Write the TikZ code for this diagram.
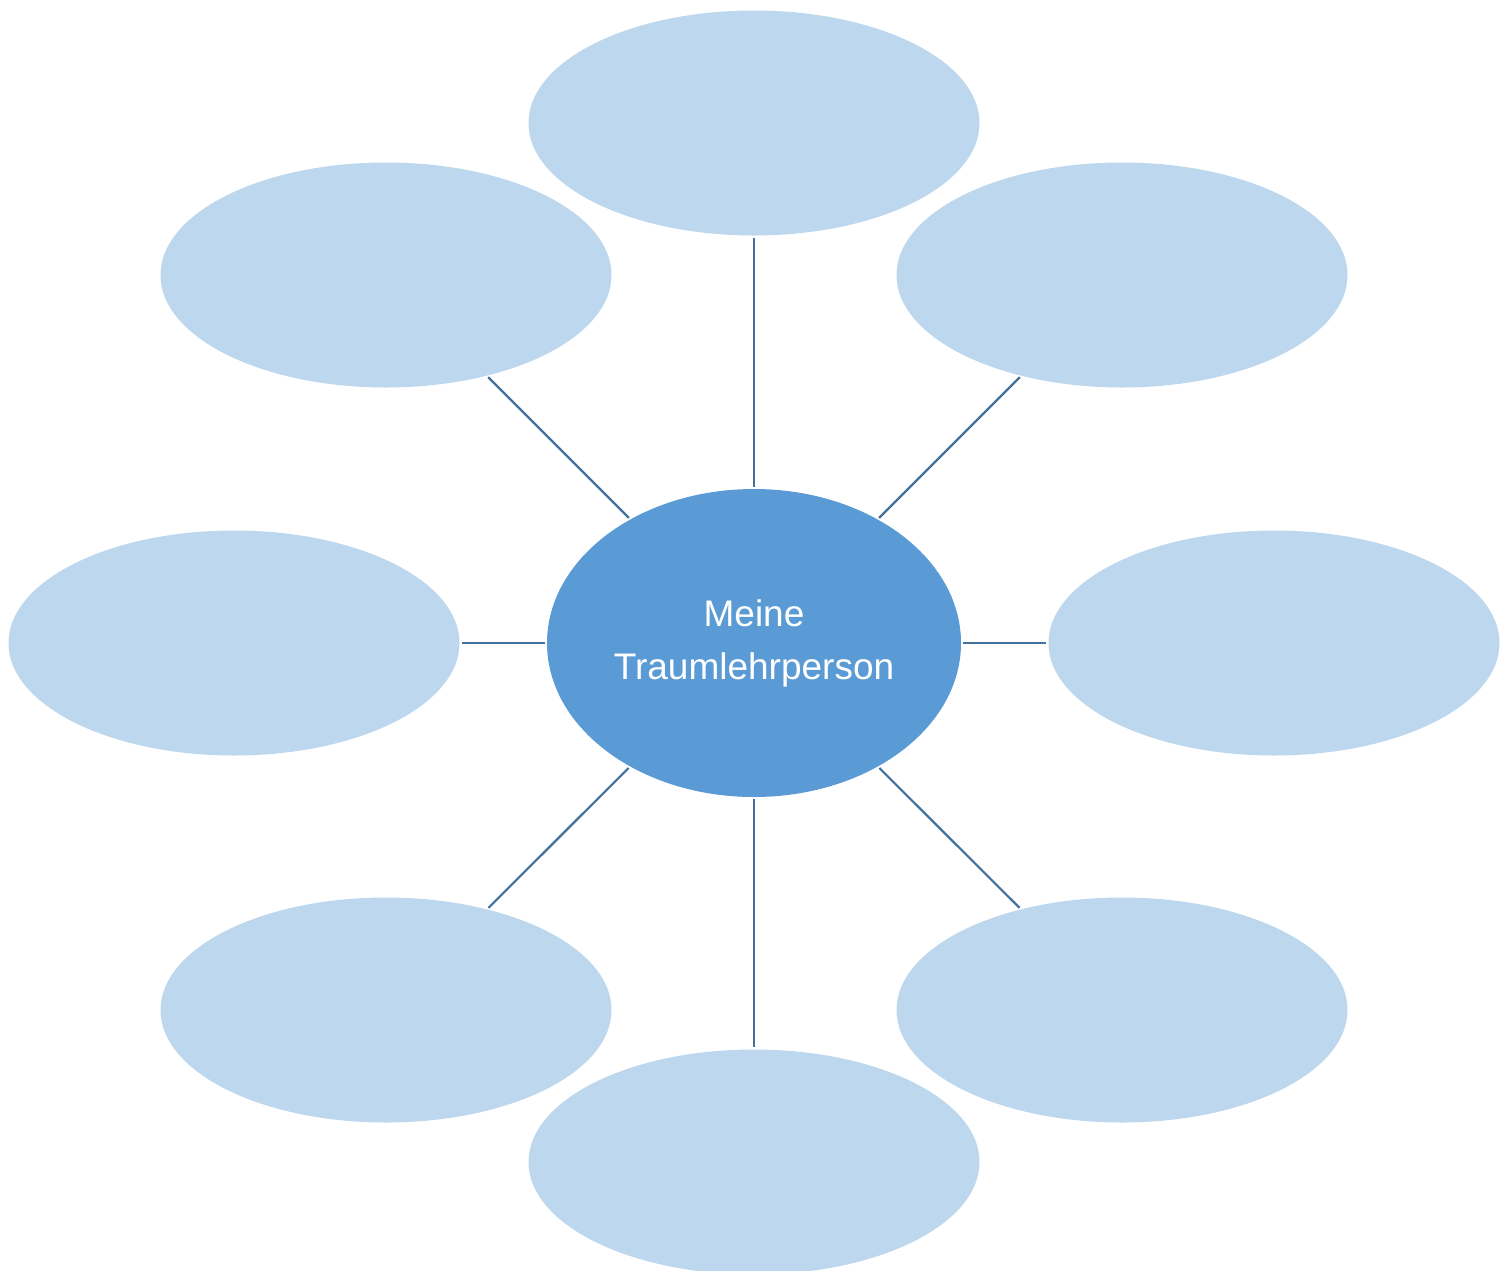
\documentclass[tikz,border=0pt]{standalone}
\usepackage{fontspec}
\setmainfont{Liberation Sans}
\usetikzlibrary{shapes.geometric}
\definecolor{outerfill}{HTML}{BDD7EE}
\definecolor{centerfill}{HTML}{5B9BD5}
\definecolor{linkcol}{HTML}{41719C}
\tikzset{
  outerbubble/.style={ellipse, fill=outerfill, draw=none, inner sep=0pt,
    minimum width=451pt, minimum height=225pt},
  centerbubble/.style={ellipse, fill=centerfill, draw=none, inner sep=0pt,
    minimum width=414pt, minimum height=308pt, text=white, align=center,
    font=\fontsize{37}{53}\selectfont},
  link/.style={draw=linkcol, line width=2.2pt, shorten <=2pt, shorten >=2pt}
}
\begin{document}
\begin{tikzpicture}[x=1pt,y=-1pt]
\useasboundingbox (0,0) rectangle (1511,1270);
\clip (0,0) rectangle (1511,1270);
\node[centerbubble] (c) at (754,643) {Meine\\Traumlehrperson};
\node[outerbubble] (t) at (754,123) {};
\node[outerbubble] (tl) at (386,275) {};
\node[outerbubble] (tr) at (1122,275) {};
\node[outerbubble] (l) at (234,643) {};
\node[outerbubble] (r) at (1274,643) {};
\node[outerbubble] (bl) at (386,1010) {};
\node[outerbubble] (br) at (1122,1010) {};
\node[outerbubble] (b) at (754,1162) {};
\foreach \n in {t,tl,tr,l,r,bl,br,b}{
  \draw[link] (c) -- (\n);
}
\end{tikzpicture}
\end{document}
